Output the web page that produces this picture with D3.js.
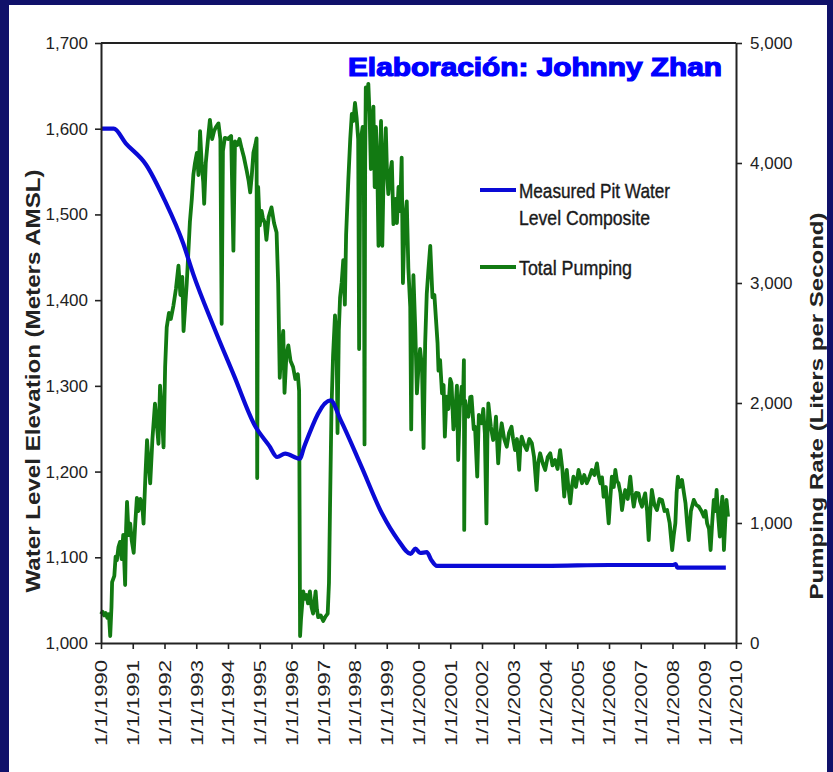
<!DOCTYPE html>
<html>
<head>
<meta charset="utf-8">
<script src="https://cdn.jsdelivr.net/npm/d3@7/dist/d3.min.js"></script>
<style>
  body { margin: 0; }
  text { font-family: "Liberation Sans", Arial, sans-serif; }
</style>
</head>
<body>
<svg id="chart" width="833" height="772"></svg>
<script>
const years = d3.range(1990, 2011)
const levelTicks = [1000, 1100, 1200, 1300, 1400, 1500, 1600, 1700]
const pumpTicks = [0, 1000, 2000, 3000, 4000, 5000]

// measured pit water level (m AMSL)
const levelT = [1990.00, 1990.40, 1990.78, 1991.42, 1992.00, 1992.59, 1992.90, 1993.55, 1994.20, 1994.84,
  1995.30, 1995.55, 1995.80, 1996.26, 1996.40, 1997.23, 1997.55, 1998.20, 1998.85, 1999.36,
  1999.75, 1999.90, 2000.05, 2000.26, 2000.40, 2000.58, 2004.00, 2006.00, 2008.00, 2008.10,
  2008.15, 2009.68]
const levelM = [1600, 1600, 1583, 1558, 1517, 1466, 1431, 1369, 1311, 1254,
  1230, 1217, 1221, 1215, 1229, 1283, 1260, 1206, 1151, 1120,
  1104, 1110, 1105, 1106, 1097, 1090, 1090, 1091, 1091, 1092,
  1088, 1088]

// total pumping (L/s)
const pumpT = [
  1990.00, 1990.05, 1990.10, 1990.15, 1990.20, 1990.25, 1990.29, 1990.33, 1990.35, 1990.42,
  1990.46, 1990.50, 1990.55, 1990.60, 1990.65, 1990.70, 1990.76, 1990.79, 1990.82, 1990.87,
  1990.92, 1990.97, 1991.03, 1991.08, 1991.13, 1991.18, 1991.24, 1991.30, 1991.34, 1991.40,
  1991.45, 1991.50, 1991.55, 1991.62, 1991.70, 1991.75, 1991.81, 1991.86, 1991.92, 1991.97,
  1992.02, 1992.07, 1992.14, 1992.20, 1992.28, 1992.36, 1992.44, 1992.50, 1992.56, 1992.60,
  1992.65, 1992.70, 1992.75, 1992.80, 1992.86, 1992.91, 1992.96, 1993.02, 1993.07, 1993.12,
  1993.17, 1993.22, 1993.25, 1993.30, 1993.37, 1993.43, 1993.50, 1993.56, 1993.62, 1993.70,
  1993.76, 1993.80, 1993.84, 1993.90, 1994.00, 1994.10, 1994.17, 1994.22, 1994.30, 1994.36,
  1994.43, 1994.50, 1994.59, 1994.65, 1994.70, 1994.75, 1994.80, 1994.86, 1994.90, 1994.92,
  1994.95, 1995.00, 1995.06, 1995.10, 1995.16, 1995.21, 1995.28, 1995.37, 1995.45, 1995.53,
  1995.58, 1995.63, 1995.68, 1995.74, 1995.78, 1995.84, 1995.90, 1995.97, 1996.05, 1996.12,
  1996.20, 1996.24, 1996.27, 1996.30, 1996.37, 1996.42, 1996.47, 1996.52, 1996.58, 1996.63,
  1996.68, 1996.76, 1996.80, 1996.84, 1996.92, 1997.00, 1997.07, 1997.14, 1997.18, 1997.21,
  1997.26, 1997.31, 1997.37, 1997.42, 1997.45, 1997.49, 1997.53, 1997.58, 1997.63, 1997.68,
  1997.72, 1997.79, 1997.85, 1997.90, 1997.95, 1998.00, 1998.05, 1998.10, 1998.13, 1998.17,
  1998.24, 1998.28, 1998.30, 1998.32, 1998.34, 1998.38, 1998.42, 1998.46, 1998.50, 1998.54,
  1998.58, 1998.62, 1998.66, 1998.70, 1998.74, 1998.78, 1998.82, 1998.86, 1998.90, 1998.97,
  1999.01, 1999.05, 1999.10, 1999.16, 1999.21, 1999.27, 1999.32, 1999.37, 1999.42, 1999.47,
  1999.51, 1999.56, 1999.63, 1999.68, 1999.74, 1999.77, 1999.80, 1999.84, 1999.90, 1999.95,
  2000.00, 2000.05, 2000.11, 2000.16, 2000.21, 2000.26, 2000.31, 2000.37, 2000.44, 2000.50,
  2000.55, 2000.60, 2000.63, 2000.68, 2000.74, 2000.79, 2000.83, 2000.88, 2000.94, 2001.00,
  2001.04, 2001.10, 2001.15, 2001.21, 2001.25, 2001.30, 2001.36, 2001.40, 2001.43, 2001.44,
  2001.47, 2001.52, 2001.57, 2001.63, 2001.67, 2001.74, 2001.78, 2001.85, 2001.90, 2001.99,
  2002.04, 2002.09, 2002.14, 2002.17, 2002.20, 2002.28, 2002.35, 2002.40, 2002.44, 2002.51,
  2002.56, 2002.62, 2002.70, 2002.78, 2002.85, 2002.93, 2002.98, 2003.04, 2003.10, 2003.17,
  2003.21, 2003.25, 2003.33, 2003.41, 2003.49, 2003.57, 2003.64, 2003.72, 2003.77, 2003.83,
  2003.91, 2003.99, 2004.07, 2004.15, 2004.22, 2004.30, 2004.38, 2004.46, 2004.53, 2004.59,
  2004.63, 2004.67, 2004.72, 2004.78, 2004.83, 2004.88, 2004.96, 2005.04, 2005.10, 2005.15,
  2005.22, 2005.30, 2005.38, 2005.46, 2005.54, 2005.62, 2005.67, 2005.73, 2005.78, 2005.83,
  2005.90, 2005.99, 2006.04, 2006.09, 2006.15, 2006.20, 2006.25, 2006.30, 2006.36, 2006.41,
  2006.46, 2006.51, 2006.59, 2006.67, 2006.72, 2006.78, 2006.85, 2006.93, 2006.98, 2007.04,
  2007.09, 2007.14, 2007.20, 2007.25, 2007.30, 2007.35, 2007.43, 2007.51, 2007.59, 2007.67,
  2007.75, 2007.83, 2007.91, 2007.99, 2008.04, 2008.09, 2008.13, 2008.17, 2008.23, 2008.30,
  2008.36, 2008.41, 2008.46, 2008.51, 2008.58, 2008.67, 2008.75, 2008.83, 2008.91, 2008.99,
  2009.04, 2009.09, 2009.15, 2009.20, 2009.25, 2009.30, 2009.35, 2009.39, 2009.44, 2009.49,
  2009.53, 2009.57, 2009.62, 2009.66, 2009.70, 2009.75]
const pumpQ = [
  240, 260, 230, 250, 210, 240, 58, 300, 508, 560,
  720, 690, 800, 843, 700, 900, 483, 950, 1176, 900,
  995, 850, 752, 1000, 1210, 1100, 1200, 1150, 995, 1400,
  1690, 1500, 1330, 1700, 1995, 1850, 1660, 2145, 1900, 1630,
  2300, 2630, 2750, 2700, 2810, 2950, 3145, 2900, 3050, 2600,
  2800, 2995, 3250, 3510, 3700, 3905, 4000, 4085, 3900, 4265,
  4000, 3840, 3660, 4000, 4200, 4360, 4200, 4265, 4300, 4330,
  4200, 2660, 4100, 4210, 4200, 4225, 3270, 4180, 4150, 4200,
  4120, 4050, 3935, 3850, 3755, 3900, 4085, 4150, 4205, 1375,
  3800, 3480, 3600, 3540, 3500, 3360, 3550, 3630, 3500, 3420,
  3000, 2210, 2450, 2600, 2085, 2400, 2480, 2350, 2300, 2200,
  2240, 2100, 58, 200, 430, 368, 400, 330, 430, 300,
  245, 430, 280, 215, 230, 184, 220, 245, 500, 1072,
  1960, 2400, 2730, 2500, 1750, 2600, 2880, 3000, 3190, 2820,
  3400, 3860, 4200, 4410, 4350, 4500, 4380, 4200, 2450, 4170,
  4300, 3800, 1655, 4000, 4630, 4550, 4660, 4400, 3950, 4300,
  4470, 3800, 4300, 4000, 3310, 3900, 4350, 3310, 3900, 4290,
  3900, 3740, 3900, 4010, 3490, 3700, 3500, 3800, 3600, 4045,
  3000, 3500, 3680, 3125, 2800, 1780, 2500, 3065, 2600, 2080,
  2300, 2450, 2300, 1625, 2500, 2910, 3100, 3310, 2880, 2900,
  2700, 2500, 2270, 2358, 2080, 2150, 1720, 2053, 1950, 2200,
  2164, 1780, 1886, 2145, 1525, 1960, 2136, 2000, 2358, 942,
  2020, 1900, 1886, 2050, 2053, 1780, 1803, 1386, 1900, 1831,
  1950, 1747, 997, 1700, 1997, 1800, 1692, 1750, 1886, 1497,
  1700, 1831, 1700, 1636, 1750, 1803, 1700, 1608, 1700, 1442,
  1650, 1719, 1650, 1608, 1700, 1664, 1550, 1275, 1500, 1581,
  1500, 1442, 1550, 1581, 1480, 1525, 1450, 1608, 1450, 1219,
  1350, 1442, 1300, 1164, 1300, 1386, 1300, 1442, 1380, 1331,
  1400, 1331, 1380, 1442, 1400, 1497, 1400, 1331, 1380, 1219,
  1300, 997, 1200, 1386, 1300, 1442, 1350, 1331, 1250, 1108,
  1200, 1275, 1200, 1386, 1250, 1136, 1250, 1247, 1180, 1136,
  1200, 1247, 1100, 858, 1100, 1275, 1150, 1108, 1200, 1192,
  1100, 1108, 1000, 775, 900, 997, 1250, 1386, 1300, 1358,
  1250, 1164, 1000, 858, 1100, 1192, 1150, 1136, 1100, 1053,
  1100, 997, 950, 775, 1000, 1192, 1100, 1275, 1050, 886,
  1100, 1219, 775, 1000, 1192, 1053]

const svg = d3.select('#chart')
const W = 833, H = 772
const m = { left: 101, right: 736, top: 43, bottom: 643 }

svg.append('rect').attr('width', W).attr('height', H).attr('fill', '#10116a')
svg.append('rect').attr('x', 9).attr('y', 5).attr('width', 818).attr('height', 767).attr('fill', '#fff')

const x = d3.scaleLinear().domain([1990, 2010]).range([m.left, m.right])
const yL = d3.scaleLinear().domain([1000, 1700]).range([m.bottom, m.top])
const yR = d3.scaleLinear().domain([0, 5000]).range([m.bottom, m.top])

// lines
const pumpLine = d3.line().x(d => x(d[0])).y(d => yR(d[1]))
const levelLine = d3.line().x(d => x(d[0])).y(d => yL(d[1])).curve(d3.curveMonotoneX)

svg.append('path')
  .datum(d3.zip(pumpT, pumpQ))
  .attr('d', pumpLine)
  .attr('fill', 'none')
  .attr('stroke', '#127a12')
  .attr('stroke-width', 3.8)
  .attr('stroke-linejoin', 'round')

svg.append('path')
  .datum(d3.zip(levelT, levelM))
  .attr('d', levelLine)
  .attr('fill', 'none')
  .attr('stroke', '#0a0ad6')
  .attr('stroke-width', 4.2)

// axes
const styleAxis = g => {
  g.select('.domain').attr('stroke', '#222').attr('stroke-width', 2)
  g.selectAll('.tick line').attr('stroke', '#222').attr('stroke-width', 1.6)
  g.selectAll('.tick text').attr('fill', '#222').style('font-size', '17px')
}

svg.append('g')
  .attr('transform', `translate(${m.left},0)`)
  .call(d3.axisLeft(yL).tickValues(levelTicks).tickFormat(d3.format(',')).tickSize(6).tickSizeOuter(0).tickPadding(7))
  .call(styleAxis)

svg.append('g')
  .attr('transform', `translate(${m.right},0)`)
  .call(d3.axisRight(yR).tickValues(pumpTicks).tickFormat(d3.format(',')).tickSize(6).tickSizeOuter(0).tickPadding(8))
  .call(styleAxis)

const xg = svg.append('g')
  .attr('transform', `translate(0,${m.bottom})`)
  .call(d3.axisBottom(x).tickValues(years).tickFormat(d => '1/1/' + d).tickSize(6).tickSizeOuter(0))
  .call(styleAxis)
xg.selectAll('.tick text')
  .attr('transform', 'rotate(-90)')
  .attr('text-anchor', 'end')
  .attr('x', -17)
  .attr('y', 0)
  .attr('dy', '0.35em')
  .attr('textLength', 86)
  .attr('lengthAdjust', 'spacingAndGlyphs')

// top frame
svg.append('line')
  .attr('x1', m.left).attr('x2', m.right)
  .attr('y1', m.top).attr('y2', m.top)
  .attr('stroke', '#222').attr('stroke-width', 2)

// axis titles
svg.append('text')
  .attr('transform', 'translate(40,381) rotate(-90)')
  .attr('text-anchor', 'middle')
  .attr('font-weight', 'bold')
  .attr('font-size', 20)
  .attr('fill', '#222')
  .attr('textLength', 423)
  .attr('lengthAdjust', 'spacingAndGlyphs')
  .text('Water Level Elevation (Meters AMSL)')

svg.append('text')
  .attr('transform', 'translate(823,406) rotate(-90)')
  .attr('text-anchor', 'middle')
  .attr('font-weight', 'bold')
  .attr('font-size', 19)
  .attr('fill', '#222')
  .attr('textLength', 387)
  .attr('lengthAdjust', 'spacingAndGlyphs')
  .text('Pumping Rate (Liters per Second)')

// watermark
svg.append('text')
  .attr('x', 348).attr('y', 76)
  .attr('font-weight', 900)
  .attr('font-size', 25)
  .attr('fill', '#0000ff')
  .attr('stroke', '#0000ff').attr('stroke-width', 1.2)
  .attr('textLength', 374)
  .attr('lengthAdjust', 'spacingAndGlyphs')
  .text('Elaboración: Johnny Zhan')

// legend
const legend = [
  { color: '#0a0ad6', y: 190, lines: ['Measured Pit Water', 'Level Composite'], lens: [151, 131] },
  { color: '#127a12', y: 267, lines: ['Total Pumping'], lens: [113] }
]
legend.forEach(l => {
  svg.append('line')
    .attr('x1', 480).attr('x2', 516)
    .attr('y1', l.y).attr('y2', l.y)
    .attr('stroke', l.color).attr('stroke-width', 4)
  l.lines.forEach((t, i) => {
    svg.append('text')
      .attr('x', 519).attr('y', l.y + 8 + i * 27)
      .attr('font-size', 21)
      .attr('fill', '#1a1a1a')
      .attr('stroke', '#1a1a1a').attr('stroke-width', 0.4)
      .attr('textLength', l.lens[i])
      .attr('lengthAdjust', 'spacingAndGlyphs')
      .text(t)
  })
})
</script>
</body>
</html>
